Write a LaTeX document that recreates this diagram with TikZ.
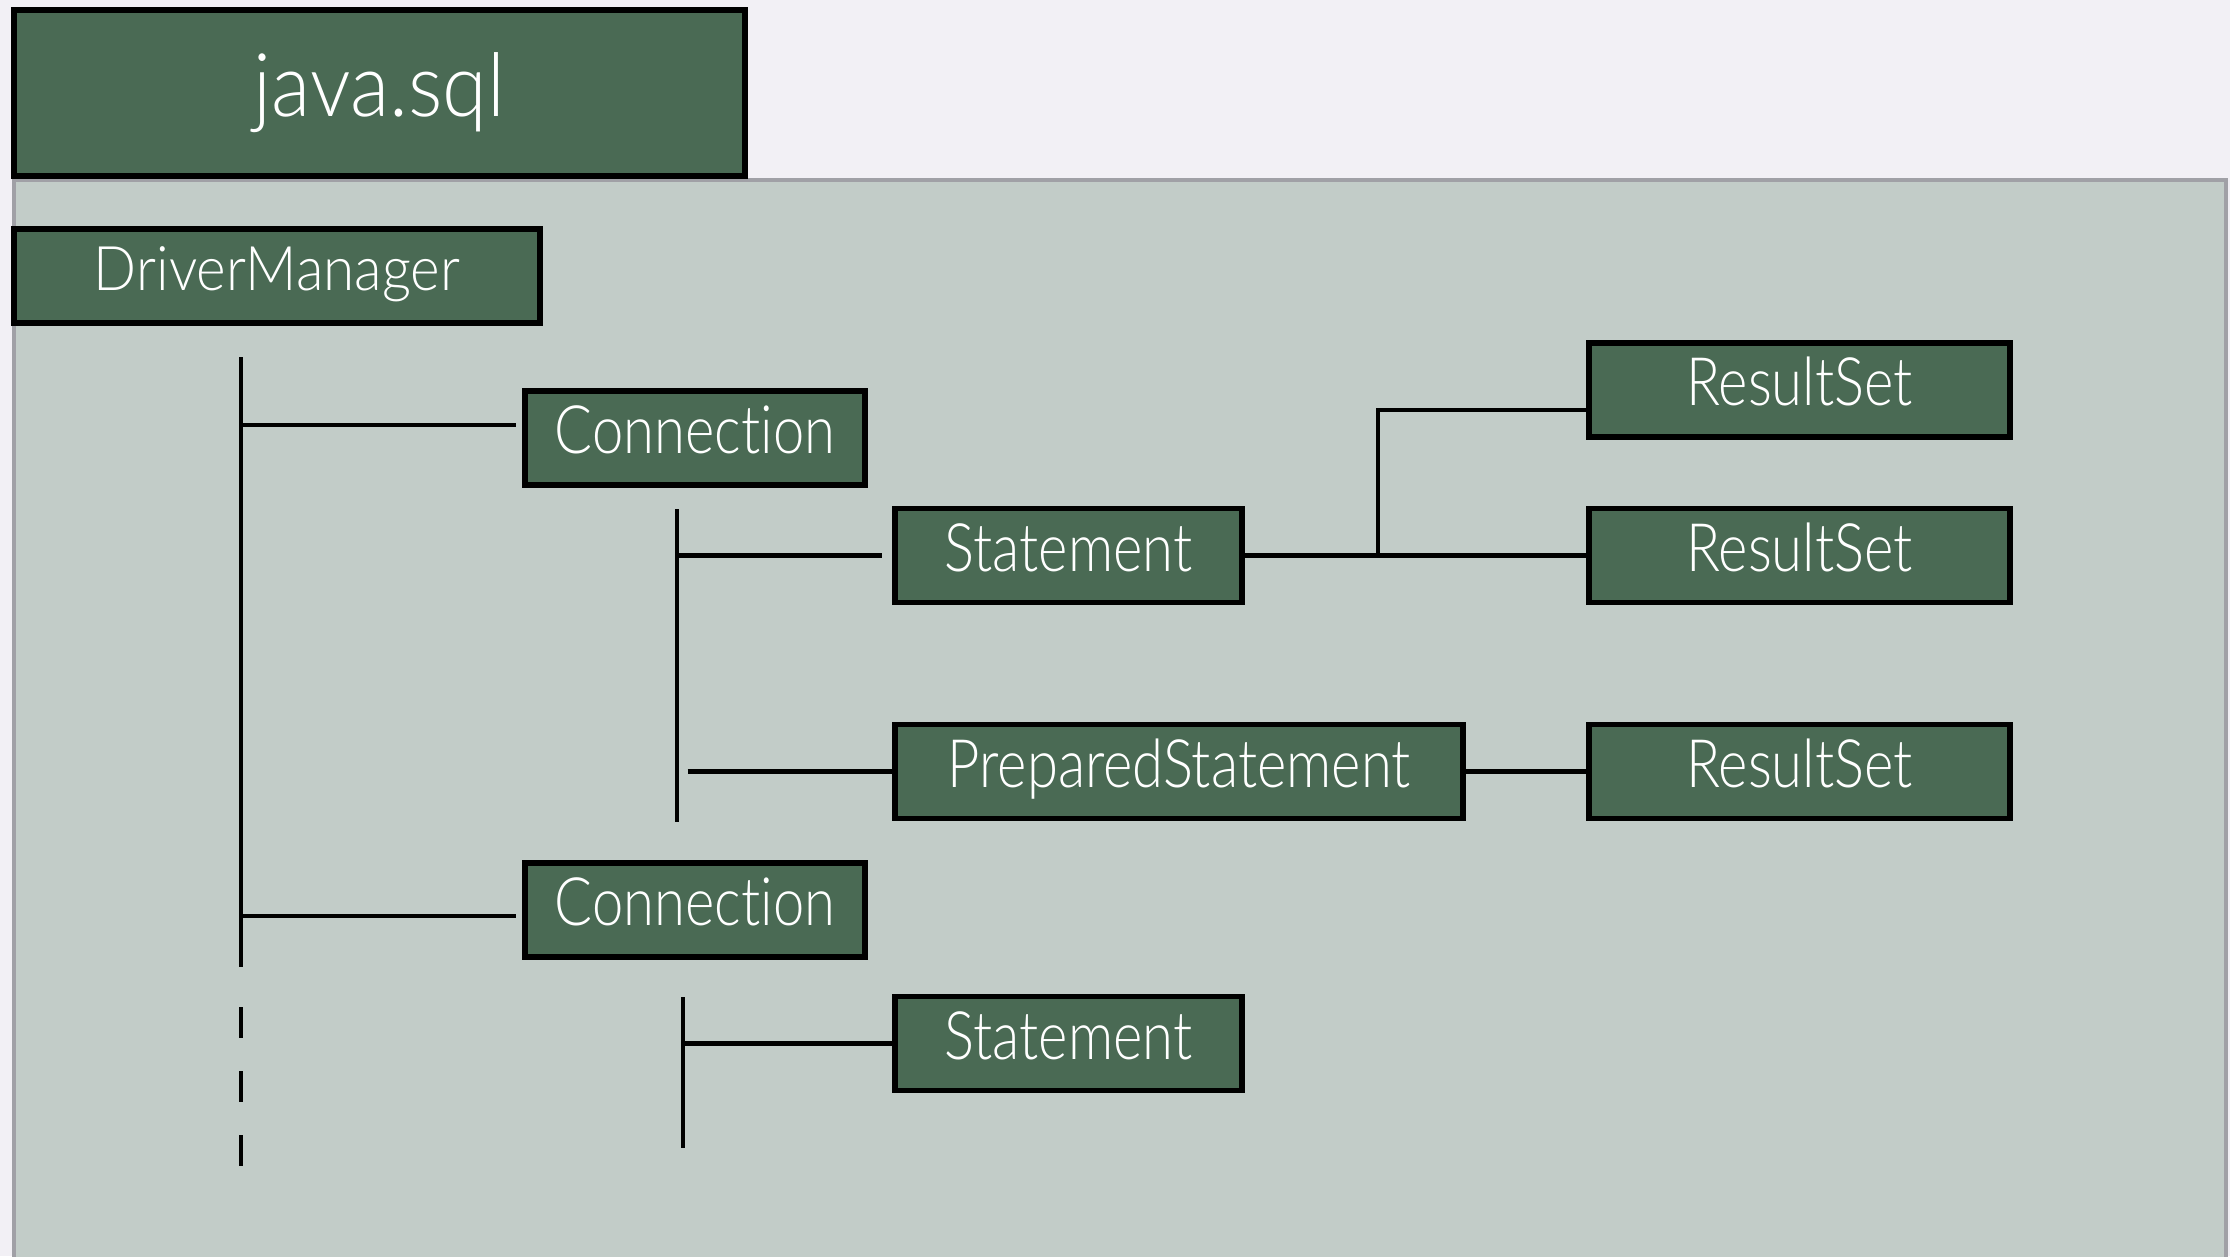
\documentclass[tikz,border=0pt]{standalone}
\usepackage{fontspec}
\setmainfont{Lato}[UprightFont=* Light, FakeStretch=0.84, Ligatures=NoCommon]
\newfontfamily\widefont{Lato}[UprightFont=* Light, FakeStretch=0.92, Ligatures=NoCommon]
\usetikzlibrary{positioning}
\definecolor{boxgreen}{RGB}{74,106,84}
\definecolor{panelgray}{RGB}{194,204,200}
\definecolor{paper}{RGB}{242,240,245}
\definecolor{rimgray}{RGB}{160,160,166}

\begin{document}
\begin{tikzpicture}[x=0.01cm, y=-0.01cm,
	classbox/.style={draw=black, line width=1.6pt, fill=boxgreen, text=white, inner sep=0pt,
		minimum height=0.94cm, font=\fontsize{19}{22}\selectfont,
		text height=13.7pt, text depth=4.8pt},
	link/.style={line width=1.4pt}]
	% Background and panel
	\fill[paper] (0,0) rectangle (2230,1256);
	\useasboundingbox (0,0) rectangle (2230,1256);
	\filldraw[fill=panelgray, draw=rimgray, line width=0.9pt] (14,180) rectangle (2226,1262);
	
	% Boxes
	\node[classbox, minimum width=7.31cm, minimum height=1.66cm, text height=, text depth=,
		font=\widefont\fontsize{25}{30}\selectfont] (pkg) at (379.5,93) {java.sql};
	\node[classbox, minimum width=5.26cm, text height=12.6pt, text depth=4.5pt,
		font=\widefont\fontsize{17.5}{21}\selectfont] (dm) at (277,276) {DriverManager};
	\node[classbox, minimum width=3.4cm] (conn1) at (695,438) {Connection};
	\node[classbox, minimum width=3.47cm] (stmt1) at (1068.5,555.5) {Statement};
	\node[classbox, minimum width=5.68cm] (pstmt) at (1179,771.5) {PreparedStatement};
	\node[classbox, minimum width=4.21cm] (rs1) at (1799.5,390) {ResultSet};
	\node[classbox, minimum width=4.21cm] (rs2) at (1799.5,555.5) {ResultSet};
	\node[classbox, minimum width=4.21cm] (rs3) at (1799.5,771.5) {ResultSet};
	\node[classbox, minimum width=3.4cm] (conn2) at (695,910) {Connection};
	\node[classbox, minimum width=3.47cm] (stmt2) at (1068.5,1043.5) {Statement};
	
	% Trunk under DriverManager
	\coordinate (dmtop) at (241,357);
	\coordinate (dmbot) at (241,967);
	\coordinate (dmj1) at (241,425);
	\coordinate (dmj2) at (241,916);
	\draw[link] (dmtop) -- (dmbot);
	\draw[link, shorten >=1.6pt] (dmj1) -- (dmj1 -| conn1.west);
	\draw[link, shorten >=1.6pt] (dmj2) -- (dmj2 -| conn2.west);
	\coordinate (moretop) at (241,1007);
	\coordinate (morebot) at (241,1166);
	\draw[link, dash pattern=on 8.8pt off 9.4pt] (moretop) -- (morebot);
	
	% Trunk under first Connection
	\coordinate (c1top) at (677,509);
	\coordinate (c1bot) at (677,822);
	\draw[link] (c1top) -- (c1bot);
	\draw[link, shorten >=3pt] (c1top |- stmt1.west) -- (stmt1.west);
	\draw[link, shorten <=3pt] (c1top |- pstmt.west) -- (pstmt.west);
	
	% Trunk under second Connection
	\coordinate (c2top) at (683,997);
	\coordinate (c2bot) at (683,1148);
	\draw[link] (c2top) -- (c2bot);
	\draw[link] (c2top |- stmt2.west) -- (stmt2.west);
	
	% Result sets
	\coordinate (fork) at (1378,555.5);
	\draw[link] (stmt1.east) -- (rs2.west);
	\draw[link] (fork) |- ([yshift=-0.2cm]rs1.west);
	\draw[link] (pstmt.east) -- (rs3.west);
\end{tikzpicture}
\end{document}
